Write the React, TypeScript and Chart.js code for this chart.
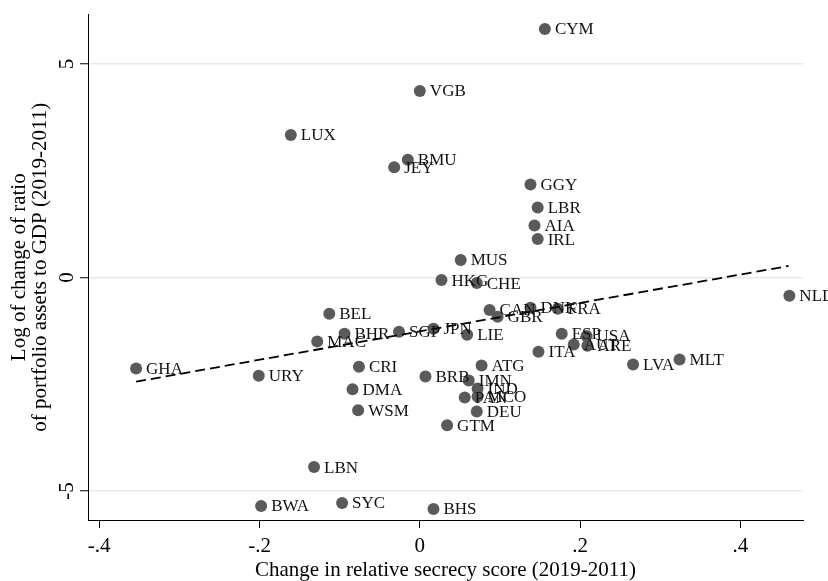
import React, { useEffect, useRef } from "react";
import { Chart, registerables } from "chart.js";

Chart.register(...registerables);

const countries = [
  "CYM", "VGB", "LUX", "BMU", "JEY", "GGY", "LBR", "AIA", "IRL", "MUS",
  "HKG", "CHE", "BEL", "CAN", "GBR", "DNK", "FRA", "BHR", "MAC", "SGP",
  "JPN", "LIE", "CRI", "GHA", "URY", "DMA", "WSM", "BRB", "ATG", "IMN",
  "IND", "PAN", "MCO", "DEU", "GTM", "LBN", "BWA", "SYC", "BHS", "ESP",
  "USA", "AUT", "ARE", "ITA", "LVA", "MLT", "NLD",
];

const secrecyChange = [
  0.156, 0.0, -0.161, -0.015, -0.032, 0.138, 0.147, 0.143, 0.147, 0.051,
  0.027, 0.071, -0.113, 0.087, 0.097, 0.138, 0.172, -0.094, -0.128, -0.026,
  0.017, 0.059, -0.076, -0.354, -0.201, -0.084, -0.077, 0.007, 0.077, 0.061,
  0.072, 0.056, 0.072, 0.071, 0.034, -0.132, -0.198, -0.097, 0.017, 0.177,
  0.208, 0.192, 0.209, 0.148, 0.266, 0.324, 0.461,
];

const logRatioChange = [
  5.82, 4.37, 3.34, 2.76, 2.58, 2.18, 1.64, 1.22, 0.9, 0.41,
  -0.06, -0.13, -0.85, -0.76, -0.92, -0.71, -0.73, -1.32, -1.5, -1.27,
  -1.2, -1.34, -2.09, -2.13, -2.3, -2.62, -3.11, -2.32, -2.06, -2.41,
  -2.6, -2.81, -2.79, -3.14, -3.46, -4.44, -5.35, -5.28, -5.42, -1.32,
  -1.37, -1.57, -1.6, -1.74, -2.04, -1.92, -0.43,
];

const fitX = [-0.354, 0.46];
const fitY = [-2.44, 0.27];

const xTicks = [-0.4, -0.2, 0, 0.2, 0.4];
const xTickLabels = ["-.4", "-.2", "0", ".2", ".4"];
const yTicks = [-5, 0, 5];
const yTickLabels = ["-5", "0", "5"];

const xTitle = "Change in relative secrecy score (2019-2011)";
const yTitle = ["Log of change of ratio", "of portfolio assets to GDP (2019-2011)"];

const FONT = "Liberation Serif";

const labelPlugin = {
  id: "pointLabels",
  afterDatasetsDraw(chart: any) {
    const meta = chart.getDatasetMeta(0);
    const ctx = chart.ctx;
    ctx.save();
    ctx.font = `17px "${FONT}"`;
    ctx.fillStyle = "#111";
    ctx.textBaseline = "middle";
    ctx.textAlign = "left";
    meta.data.forEach((pt: any, i: number) => {
      ctx.fillText(countries[i], pt.x + 10, pt.y + 1);
    });
    ctx.restore();
  },
};

export default function App() {
  const ref = useRef<HTMLCanvasElement | null>(null);

  useEffect(() => {
    document.body.style.margin = "0";
    const canvas = ref.current;
    if (!canvas) return;
    const chart = new Chart(canvas, {
      type: "scatter",
      data: {
        datasets: [
          {
            label: "points",
            data: countries.map((_, i) => ({ x: secrecyChange[i], y: logRatioChange[i] })),
            pointRadius: 6,
            pointHoverRadius: 6,
            pointBackgroundColor: "#5a5a5a",
            pointBorderWidth: 0,
            showLine: false,
            order: 2,
          },
          {
            type: "line",
            label: "fit",
            data: fitX.map((x, i) => ({ x, y: fitY[i] })),
            borderColor: "#000",
            borderWidth: 1.8,
            borderDash: [10, 5],
            pointRadius: 0,
            fill: false,
            order: 1,
          } as any,
        ],
      },
      options: {
        animation: false,
        responsive: false,
        devicePixelRatio: 1,
        layout: { padding: { top: 12, right: 25, left: 0, bottom: 0 } },
        plugins: { legend: { display: false }, tooltip: { enabled: false } },
        scales: {
          x: {
            type: "linear",
            min: -0.414,
            max: 0.478,
            afterBuildTicks: (s: any) => {
              s.ticks = xTicks.map((v) => ({ value: v }));
            },
            afterFit: (s: any) => {
              s.height = 61;
            },
            ticks: {
              autoSkip: false,
              maxRotation: 0,
              minRotation: 0,
              padding: 8,
              color: "#000",
              font: { family: FONT, size: 21, lineHeight: 1 },
              callback: (v: any) => {
                const i = xTicks.findIndex((t) => Math.abs(t - Number(v)) < 1e-9);
                return i >= 0 ? xTickLabels[i] : "";
              },
            },
            grid: {
              drawOnChartArea: false,
              drawTicks: true,
              tickLength: 8,
              tickColor: "#000",
              tickWidth: 1,
            },
            border: { color: "#000", width: 1 },
            title: {
              display: true,
              text: xTitle,
              color: "#000",
              font: { family: FONT, size: 21, lineHeight: 1 },
              padding: { top: 0, bottom: 0 },
            },
          },
          y: {
            type: "linear",
            min: -5.68,
            max: 6.16,
            afterBuildTicks: (s: any) => {
              s.ticks = yTicks.map((v) => ({ value: v }));
            },
            afterFit: (s: any) => {
              s.width = 88;
            },
            ticks: {
              autoSkip: false,
              minRotation: 90,
              maxRotation: 90,
              crossAlign: "center",
              padding: 4,
              color: "#000",
              font: { family: FONT, size: 21, lineHeight: 1 },
              callback: (v: any) => {
                const i = yTicks.findIndex((t) => Math.abs(t - Number(v)) < 1e-9);
                return i >= 0 ? yTickLabels[i] : "";
              },
            },
            grid: {
              color: "#e8e8e8",
              lineWidth: 1.5,
              drawTicks: true,
              tickLength: 8,
              tickColor: "#000",
              tickWidth: 1,
            },
            border: { color: "#000", width: 1 },
            title: {
              display: true,
              text: yTitle,
              color: "#000",
              font: { family: FONT, size: 21, lineHeight: 1 },
              padding: { top: 9, bottom: 0 },
            },
          },
        },
      },
      plugins: [labelPlugin],
    } as any);
    return () => chart.destroy();
  }, []);

  return (
    <div style={{ width: 828, height: 581 }}>
      <canvas ref={ref} width={828} height={581} style={{ display: "block", width: 828, height: 581 }} />
    </div>
  );
}
